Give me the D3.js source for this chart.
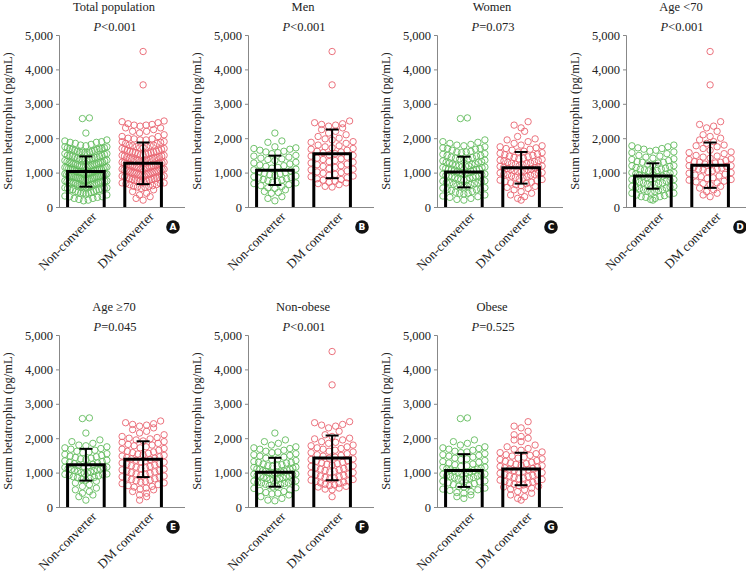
<!DOCTYPE html>
<html><head><meta charset="utf-8">
<script src="https://cdn.jsdelivr.net/npm/d3@7"></script>
<style>body{margin:0;background:#fff}svg{display:block}</style>
</head><body>
<svg id="c" width="746" height="576"></svg>
<script>
const categories = ["Non-converter", "DM converter"];
const panelTitles = ["Total population", "Men", "Women", "Age <70", "Age \u226570", "Non-obese", "Obese"];
const pOps = ["<", "<", "=", "<", "=", "<", "="];
const pVals = ["0.001", "0.001", "0.073", "0.001", "0.045", "0.001", "0.525"];
const letters = ["A", "B", "C", "D", "E", "F", "G"];
const ncMeans = [1030, 1067, 1017, 901, 1229, 1010, 1060];
const ncSD = [440, 426, 446, 369, 462, 419, 476];
const dmMeans = [1270, 1545, 1140, 1215, 1390, 1428, 1105];
const dmSD = [605, 707, 460, 659, 520, 650, 471];
const yTicks = [0, 1000, 2000, 3000, 4000, 5000];

const menNC = [2150,1920,1880,1750,1720,1700,1680,1650,1620,1600,1580,1550,1500,1480,1450,1420,1400,1380,1350,1300,1280,1250,1220,1200,1180,1150,1130,1100,1080,1050,1030,1000,980,960,940,920,900,880,860,840,820,800,780,760,740,720,700,680,650,620,600,560,540,500,450,420,400,300,250,180];
const menDM = [4520,3550,2500,2450,2420,2400,2380,2350,2300,2250,2200,2150,2100,2050,2000,1980,1950,1900,1880,1850,1800,1780,1750,1720,1700,1680,1650,1620,1600,1580,1550,1520,1500,1480,1450,1420,1400,1380,1350,1320,1300,1280,1250,1230,1200,1180,1150,1120,1100,1080,1050,1020,1000,980,950,920,900,880,850,820,800,780,750,720,700,680,650,600,580];
const womenNC = [2590,2570,1950,1900,1880,1850,1820,1800,1780,1750,1720,1700,1700,1680,1650,1620,1600,1600,1580,1550,1530,1500,1500,1480,1450,1440,1420,1400,1400,1380,1360,1340,1320,1300,1300,1280,1260,1250,1240,1220,1200,1200,1190,1180,1160,1150,1140,1120,1100,1100,1090,1080,1060,1050,1040,1020,1000,1000,990,980,960,950,940,920,900,900,890,880,860,850,840,820,800,800,780,760,750,740,720,700,700,680,660,650,620,600,600,580,560,550,520,500,500,480,450,430,400,400,380,350,320,300,280,250,220,200];
const womenDM = [2480,2380,2300,2200,2050,1980,1950,1900,1850,1800,1780,1750,1720,1700,1680,1650,1620,1600,1580,1560,1540,1520,1500,1480,1460,1440,1420,1400,1380,1360,1350,1340,1320,1300,1280,1270,1260,1240,1220,1200,1190,1180,1160,1150,1140,1120,1100,1090,1080,1060,1050,1040,1020,1000,990,980,960,950,940,920,900,880,860,840,820,800,780,760,740,720,700,680,650,620,600,570,540,500,450,400,350,300,250,200];
const ageLowNC = [1800,1780,1750,1720,1700,1680,1650,1620,1600,1580,1550,1500,1480,1450,1420,1400,1380,1350,1320,1300,1300,1280,1250,1230,1200,1200,1180,1150,1130,1100,1100,1080,1060,1050,1030,1000,1000,980,960,950,930,900,900,880,860,850,830,800,800,780,760,750,730,700,700,680,660,650,630,600,600,580,560,550,530,500,500,480,460,450,430,400,400,380,350,330,300,300,280,250,220,200];
const ageLowDM = [4520,3550,2480,2400,2350,2300,2200,2100,2050,2000,1950,1900,1850,1800,1780,1750,1700,1650,1600,1580,1550,1500,1480,1450,1420,1400,1380,1350,1320,1300,1300,1280,1250,1230,1200,1200,1180,1150,1130,1100,1100,1080,1050,1030,1000,980,950,930,900,880,850,830,800,780,750,730,700,680,650,600,550,500,450,400,350,300];
const ageHighNC = [2590,2570,2150,1950,1900,1850,1800,1780,1750,1720,1700,1680,1650,1620,1600,1580,1550,1530,1500,1480,1460,1440,1420,1400,1380,1360,1340,1320,1300,1280,1260,1240,1220,1200,1180,1160,1150,1140,1120,1100,1090,1080,1060,1050,1040,1020,1000,990,980,960,950,940,920,900,880,860,850,830,800,780,750,700,650,600,550,500,450,400,350,300,200];
const ageHighDM = [2500,2450,2420,2400,2380,2350,2300,2250,2200,2150,2100,2050,2020,2000,1980,1950,1920,1900,1880,1850,1820,1800,1780,1750,1720,1700,1680,1650,1620,1600,1580,1560,1540,1520,1500,1480,1460,1440,1420,1400,1380,1360,1340,1320,1300,1280,1260,1240,1220,1200,1180,1160,1140,1120,1100,1080,1060,1040,1020,1000,980,960,940,920,900,880,860,840,820,800,780,760,740,720,700,680,650,620,600,580,550,520,500,450,400,350,300,200];
const nonObeseNC = [2150,1950,1900,1850,1800,1750,1720,1700,1680,1650,1620,1600,1580,1550,1520,1500,1480,1450,1420,1400,1380,1350,1320,1300,1300,1280,1250,1230,1200,1200,1180,1160,1150,1130,1110,1100,1100,1080,1060,1050,1040,1020,1000,1000,990,980,960,950,940,920,900,900,880,860,850,840,820,800,800,780,760,750,740,720,700,700,680,660,650,620,600,580,560,540,500,480,450,420,400,380,350,300,250,200,180];
const nonObeseDM = [4520,3550,2480,2450,2400,2380,2350,2300,2200,2100,2050,2000,1980,1950,1900,1880,1850,1800,1780,1750,1720,1700,1680,1650,1620,1600,1580,1550,1520,1500,1480,1450,1420,1400,1380,1350,1330,1300,1280,1260,1240,1220,1200,1180,1160,1140,1120,1100,1080,1060,1040,1020,1000,980,960,940,920,900,880,860,840,820,800,780,760,740,720,700,680,660,640,620,600,580,550,520,500,300];
const obeseNC = [2590,2570,1950,1900,1850,1800,1750,1720,1700,1680,1650,1620,1600,1580,1550,1520,1500,1480,1450,1420,1400,1380,1350,1320,1300,1280,1250,1230,1200,1180,1160,1150,1130,1110,1100,1080,1060,1050,1030,1010,1000,980,960,950,930,910,900,880,860,850,830,810,800,780,760,750,730,700,680,650,620,600,580,550,520,500,480,450,420,400,350,300,250];
const obeseDM = [2480,2350,2300,2200,2100,2050,2000,1950,1900,1800,1750,1700,1680,1650,1600,1580,1550,1520,1500,1480,1450,1420,1400,1380,1350,1330,1300,1280,1260,1240,1220,1200,1180,1160,1140,1120,1100,1080,1060,1040,1020,1000,980,960,940,920,900,880,860,840,820,800,780,760,740,720,700,680,660,640,620,600,580,550,520,500,450,400,350,300,250,200];

// Total population = men + women
const panelNC = [menNC.concat(womenNC), menNC, womenNC, ageLowNC, ageHighNC, nonObeseNC, obeseNC];
const panelDM = [menDM.concat(womenDM), menDM, womenDM, ageLowDM, ageHighDM, nonObeseDM, obeseDM];

const colX = [59, 248, 437, 626];
const rowY0 = [207, 507];
const plotH = 172;
const greenC = "#62bb5c", redC = "#e9636f";
const serif = "'Liberation Serif', 'Times New Roman', serif";

const svg = d3.select("#c");

function swarm(values, y, cx, maxSpan, r) {
  const sorted = values.slice().sort((a, b) => b - a);
  const bins = [];
  let cur = null;
  sorted.forEach(v => {
    if (!cur || y(v) - cur.y0 >= 2 * r) { cur = { y0: y(v), vals: [] }; bins.push(cur); }
    cur.vals.push(v);
  });
  const out = [];
  bins.forEach(bin => {
    const arr = bin.vals;
    const n = arr.length;
    const step = n > 1 ? Math.min(2 * r + 0.6, maxSpan / (n - 1)) : 0;
    const offs = [];
    for (let i = 0; i < n; i++) offs.push((i - (n - 1) / 2) * step);
    const order = offs.map((o, i) => i).sort((a, b) => Math.abs(offs[a]) - Math.abs(offs[b]));
    order.forEach((oi, k) => out.push({ v: arr[n - 1 - k], x: cx + offs[oi], y: y(arr[n - 1 - k]) }));
  });
  return out;
}

for (let p = 0; p < 7; p++) {
  const col = p % 4, row = Math.floor(p / 4);
  const ax = colX[col], y0 = rowY0[row];
  const g = svg.append("g").attr("transform", `translate(${ax},0)`);
  const y = d3.scaleLinear().domain([0, 5000]).range([y0, y0 - plotH]);
  const x = d3.scaleBand().domain(categories).range([0, 111]).paddingInner(0.36).paddingOuter(0.15);
  const means = [ncMeans[p], dmMeans[p]], sds = [ncSD[p], dmSD[p]];
  const pts = [panelNC[p], panelDM[p]];
  const cols = [greenC, redC];

  const yAxis = d3.axisLeft(y).tickValues(yTicks).tickSize(3).tickPadding(3)
    .tickFormat(d3.format(","));
  const ya = g.append("g").call(yAxis);
  ya.select(".domain").attr("stroke", "#888").attr("stroke-width", 1);
  ya.selectAll(".tick line").attr("stroke", "#888");
  ya.selectAll(".tick text").attr("font-family", serif).attr("font-size", 12.5).attr("fill", "#222");

  g.append("line").attr("x1", 0).attr("x2", 126).attr("y1", y0 + 0.5).attr("y2", y0 + 0.5)
    .attr("stroke", "#888").attr("stroke-width", 1);

  categories.forEach((c, i) => {
    const bx = x(c), bw = x.bandwidth();
    g.append("rect").attr("x", bx).attr("y", y(means[i])).attr("width", bw)
      .attr("height", y0 - y(means[i])).attr("fill", "#fff");
    const s = swarm(pts[i], y, bx + bw / 2, 42, 3.2);
    g.append("g").selectAll("circle").data(s).join("circle")
      .attr("cx", d => d.x).attr("cy", d => d.y).attr("r", 3.2)
      .attr("fill", "none").attr("stroke", cols[i]).attr("stroke-width", 0.9);
    g.append("path")
      .attr("d", `M${bx},${y0}V${y(means[i])}H${bx + bw}V${y0}`)
      .attr("fill", "none").attr("stroke", "#000").attr("stroke-width", 3);
    const cx = bx + bw / 2;
    const top = y(means[i] + sds[i]), bot = y(means[i] - sds[i]);
    g.append("line").attr("x1", cx).attr("x2", cx).attr("y1", top).attr("y2", bot)
      .attr("stroke", "#000").attr("stroke-width", 2);
    [top, bot].forEach(yy => g.append("line").attr("x1", cx - 6.5).attr("x2", cx + 6.5)
      .attr("y1", yy).attr("y2", yy).attr("stroke", "#000").attr("stroke-width", 2));
    g.append("text").attr("transform", `translate(${cx + 5},${y0 + 4}) rotate(-45)`)
      .attr("text-anchor", "end").attr("dy", "0.7em")
      .attr("font-family", serif).attr("font-size", 13).attr("fill", "#222").text(c);
  });

  g.append("text").attr("x", 55).attr("y", y0 - plotH - 24).attr("text-anchor", "middle")
    .attr("font-family", serif).attr("font-size", 12.5).attr("fill", "#222").text(panelTitles[p]);
  const pt = g.append("text").attr("x", 56).attr("y", y0 - plotH - 4).attr("text-anchor", "middle")
    .attr("font-family", serif).attr("font-size", 12.5).attr("fill", "#222");
  pt.append("tspan").attr("font-style", "italic").text("P");
  pt.append("tspan").text(pOps[p] + pVals[p]);

  g.append("text").attr("transform", `translate(-47,${y0 - plotH / 2}) rotate(-90)`)
    .attr("text-anchor", "middle").attr("font-family", serif).attr("font-size", 12.5)
    .attr("fill", "#222").text("Serum betatrophin (pg/mL)");

  g.append("circle").attr("cx", 114).attr("cy", y0 + 20).attr("r", 6.8).attr("fill", "#111");
  g.append("text").attr("x", 114).attr("y", y0 + 20).attr("dy", "0.36em").attr("text-anchor", "middle")
    .attr("font-family", "'DejaVu Sans', sans-serif").attr("font-weight", "bold")
    .attr("font-size", 9).attr("fill", "#fff").text(letters[p]);
}
</script>
</body></html>
